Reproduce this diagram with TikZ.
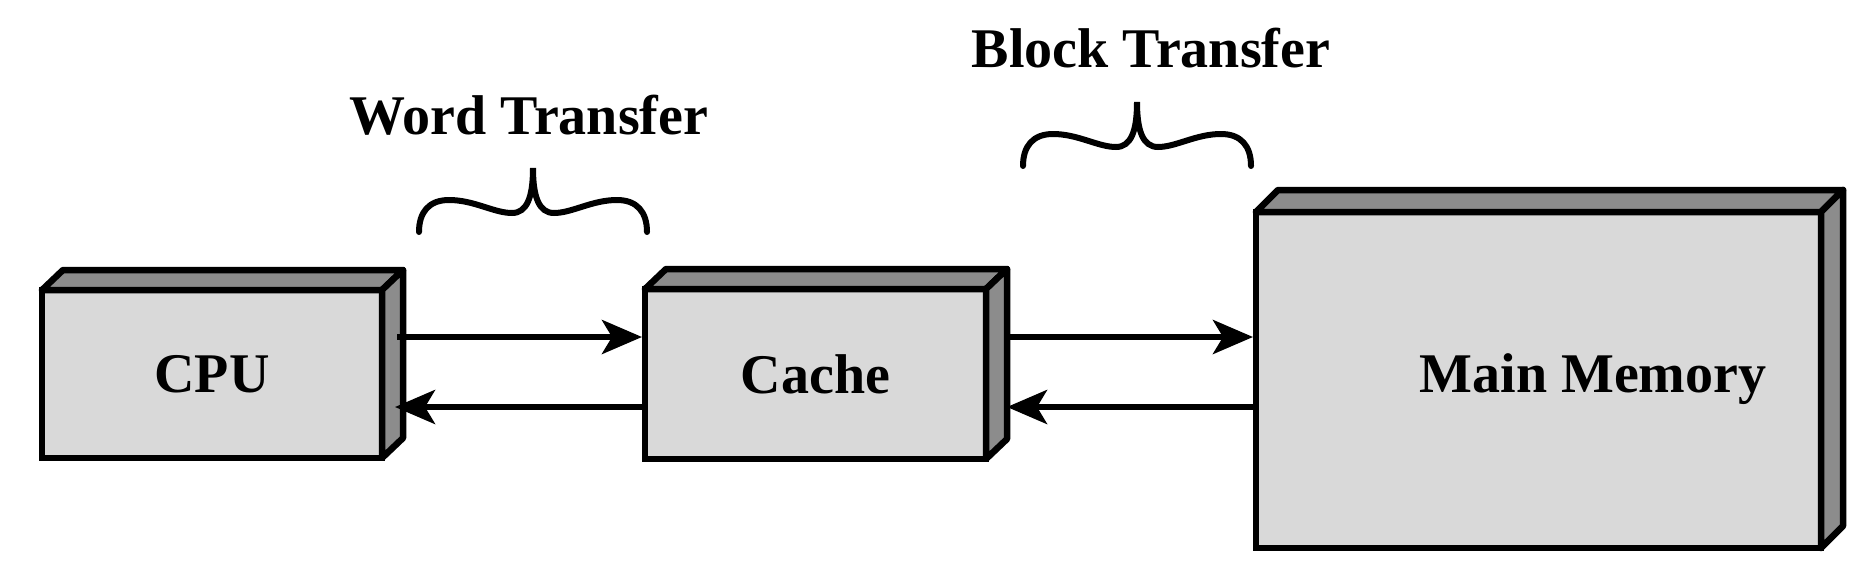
\documentclass[tikz,border=0pt]{standalone}
\usepackage{fontspec}
\setmainfont{Liberation Serif}
\usetikzlibrary{arrows.meta,calc}
\definecolor{frontgray}{RGB}{217,217,217}
\definecolor{sidegray}{RGB}{140,140,140}
\begin{document}
\begin{tikzpicture}[x=1pt,y=-1pt,
  box/.style={draw, line width=6.5pt, fill=frontgray, outer sep=0pt, inner sep=0pt,
    font=\fontsize{56}{67}\selectfont\bfseries},
  face/.style={draw, line width=6.5pt, fill=sidegray, line join=round},
  conn/.style={line width=6pt, -{Stealth[length=40pt,width=34pt,inset=10pt]}},
  bracepath/.style={line width=6pt, line cap=round},
  lbl/.style={font=\fontsize{56}{67}\selectfont\bfseries, anchor=base, inner sep=0pt}]
\useasboundingbox (0,0) rectangle (1874,576);

% boxes
\node[box, minimum width=340pt, minimum height=168pt] (cpu) at (212,374) {CPU};
\node[box, minimum width=341pt, minimum height=170pt] (cache) at (815.5,374) {Cache};
\node[box, minimum width=565pt, minimum height=336pt] (mm) at (1538.5,380) {};
\node[lbl] (mmlabel) at (1593,392) {Main Memory};

% 3D faces
\foreach \b/\dx/\dy in {cpu/21/-20, cache/21/-20, mm/22/-22}{
  \draw[face] (\b.north west) -- ++(\dx,\dy) -- ($(\b.north east)+(\dx,\dy)$) -- (\b.north east) -- cycle;
  \draw[face] (\b.north east) -- ++(\dx,\dy) -- ($(\b.south east)+(\dx,\dy)$) -- (\b.south east) -- cycle;
}

% connectors
\draw[conn] ($(cpu.east)+(15,-37)$) -- ($(cache.west)+(-3,-37)$);
\draw[conn] ($(cache.west)+(-3,33)$) -- ($(cpu.east)+(13,33)$);
\draw[conn] ($(cache.east)+(24,-37)$) -- ($(mm.west)+(-3,-43)$);
\draw[conn] ($(mm.west)+(-3,27)$) -- ($(cache.east)+(21,33)$);

% braces
\foreach \bx/\by in {419/232, 1023/166}{
  \draw[bracepath, shift={(\bx,\by)}] (0,0) .. controls (0,-20) and (10,-32) .. (30,-32)
    .. controls (55,-32) and (75,-19) .. (93,-19)
    .. controls (108,-19) and (114,-35) .. (114,-64)
    .. controls (114,-35) and (120,-19) .. (135,-19)
    .. controls (153,-19) and (173,-32) .. (198,-32)
    .. controls (218,-32) and (228,-20) .. (228,0);
}

% labels
\node[lbl] (word) at (529,134) {Word Transfer};
\node[lbl] (block) at (1151,67) {Block Transfer};
\end{tikzpicture}
\end{document}
